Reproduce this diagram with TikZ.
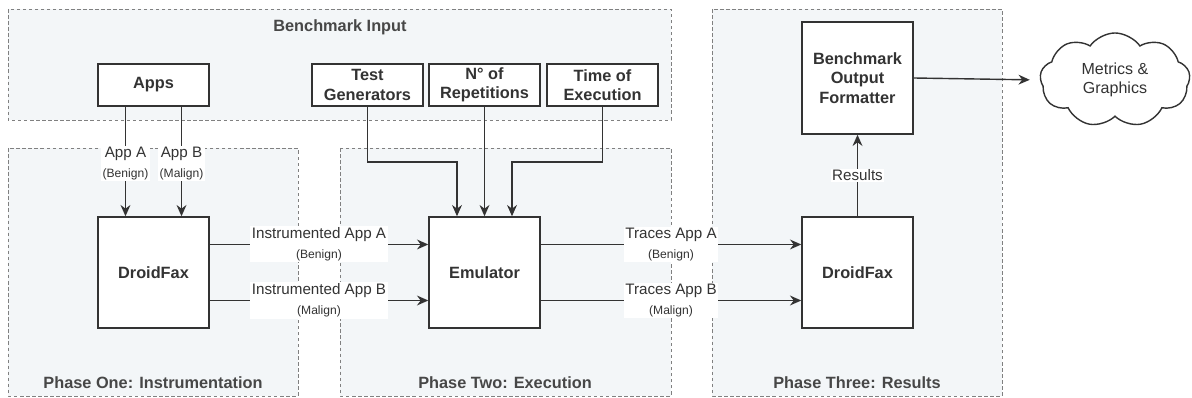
\documentclass[tikz,border=0pt]{standalone}
\usepackage{fontspec}
\setmainfont{Liberation Sans}
\definecolor{areafill}{RGB}{243,246,248}
\definecolor{areaedge}{gray}{0.5}
\definecolor{inkgray}{gray}{0.2}
\usetikzlibrary{arrows.meta,positioning,shapes.symbols}

\tikzset{
  phasearea/.style={draw=areaedge,fill=areafill,dash pattern=on 2.5pt off 1.8pt,line width=0.5pt},
  block/.style={draw=inkgray,fill=white,line width=1pt,text=inkgray,
    font=\fontsize{11.6}{13.8}\selectfont\bfseries,align=center,
    minimum width=2.775cm,minimum height=1.05cm,inner sep=1pt},
  bigblock/.style={block,minimum height=2.775cm},
  flow/.style={draw=inkgray,line width=1pt,-{Stealth[length=8pt,width=7pt]}},
  flowlabel/.style={fill=white,text=inkgray,font=\fontsize{10.8}{14}\selectfont,
    align=center,inner sep=1pt},
  phaselabel/.style={text=inkgray!90,font=\fontsize{11.6}{13.8}\selectfont\bfseries}
}
\newcommand{\sublabel}[1]{{\fontsize{8.6}{10}\selectfont #1}}

\begin{document}
\begin{tikzpicture}[x=0.025cm,y=-0.025cm]
  \useasboundingbox (0,0) rectangle (1192,398);
  % areas
  \draw[phasearea] (8,9) rectangle (671,120);
  \draw[phasearea] (8,148) rectangle (298,396);
  \draw[phasearea] (340,148) rectangle (671,396);
  \draw[phasearea] (712,9) rectangle (1002,396);
  \node[phaselabel] (inputtitle) at (340,27) {Benchmark Input};
  \node[phaselabel] (phaseone) at (153,383) {Phase One: Instrumentation};
  \node[phaselabel] (phasetwo) at (505,383) {Phase Two: Execution};
  \node[phaselabel] (phasethree) at (857,383) {Phase Three: Results};

  % inputs
  \node[block] (apps) at (153.5,85) {Apps};
  \node[block] (testgen) at (367.5,85) {Test\\Generators};
  \node[block] (reps) at (484.5,85) {N° of\\Repetitions};
  \node[block] (exectime) at (602.5,85) {Time of\\Execution};

  % stages
  \node[bigblock] (fax1) at (153.5,272.5) {DroidFax};
  \node[bigblock] (emu) at (484.5,272.5) {Emulator};
  \node[bigblock] (fax2) at (857.5,272.5) {DroidFax};
  \node[block,minimum height=2.8cm] (formatter) at (857.5,78) {Benchmark\\Output\\Formatter};
  \node[cloud,cloud puffs=9,cloud puff arc=110,aspect=1.6,draw=inkgray,fill=white,
    line width=1pt,text=inkgray,align=center,font=\fontsize{11.4}{13.8}\selectfont,
    minimum width=3.75cm,minimum height=2.35cm,inner sep=0pt] (metrics) at (1115,80)
    {Metrics \&\\Graphics};

  % apps into instrumentation
  \draw[flow] ([xshift=-0.7cm]apps.south) -- ([xshift=-0.7cm]fax1.north)
    node[flowlabel,pos=0.52] {App A\\\sublabel{(Benign)}};
  \draw[flow] ([xshift=0.7cm]apps.south) -- ([xshift=0.7cm]fax1.north)
    node[flowlabel,pos=0.52] {App B\\\sublabel{(Malign)}};

  % benchmark settings into emulator
  \coordinate (tgbend) at (457,162);
  \coordinate (tebend) at (512,162);
  \draw[flow] (testgen.south) |- (tgbend) -- (tgbend |- emu.north);
  \draw[flow] (reps.south) -- (emu.north);
  \draw[flow] (exectime.south) |- (tebend) -- (tebend |- emu.north);

  % instrumented apps
  \draw[flow] ([yshift=0.7cm]fax1.east) -- ([yshift=0.7cm]emu.west)
    node[flowlabel,midway] {Instrumented App A\\\sublabel{(Benign)}};
  \draw[flow] ([yshift=-0.7cm]fax1.east) -- ([yshift=-0.7cm]emu.west)
    node[flowlabel,midway] {Instrumented App B\\\sublabel{(Malign)}};

  % traces
  \draw[flow] ([yshift=0.7cm]emu.east) -- ([yshift=0.7cm]fax2.west)
    node[flowlabel,midway] {Traces App A\\\sublabel{(Benign)}};
  \draw[flow] ([yshift=-0.7cm]emu.east) -- ([yshift=-0.7cm]fax2.west)
    node[flowlabel,midway] {Traces App B\\\sublabel{(Malign)}};

  % results and output
  \draw[flow] (fax2.north) -- (formatter.south) node[flowlabel,midway] {Results};
  \draw[flow,shorten >=0.25cm] (formatter.east) -- (metrics.west);
\end{tikzpicture}
\end{document}
